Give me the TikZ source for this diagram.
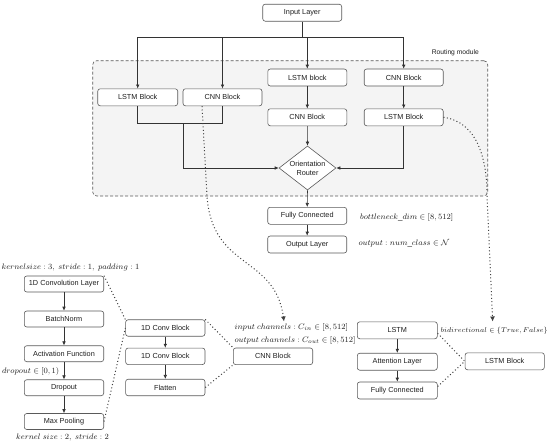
\documentclass[tikz,border=0pt]{standalone}
\usepackage[no-math]{fontspec}
\setmainfont{Liberation Sans}
\usetikzlibrary{arrows.meta,shapes.geometric,calc}
\definecolor{boxline}{HTML}{5A5A5A}
\definecolor{linec}{HTML}{333333}
\definecolor{modfill}{HTML}{F4F4F4}
\definecolor{txt}{HTML}{1E1E1E}
\begin{document}
\begin{tikzpicture}[x=1pt,y=-1pt,
  blk/.style={draw=boxline, fill=white, rounded corners=2.5pt, minimum width=79pt, minimum height=17pt, inner sep=0pt, font=\fontsize{7.3}{8}\selectfont, text=txt, line width=0.6pt},
  conn/.style={draw=linec, line width=0.6pt},
  arr/.style={conn, -{Latex[length=4pt,width=3.6pt]}},
  dotc/.style={draw=black!75, line width=1pt, dash pattern=on 1pt off 2.4pt},
  darr/.style={dotc, -{Latex[length=5pt,width=5pt]}},
  ann/.style={font=\fontsize{8}{9.6}\selectfont, inner sep=0pt, text=txt},
]
\useasboundingbox[fill=white] (0,0) rectangle (550,447);

% routing module
\node[draw=black!65, dash pattern=on 3pt off 2pt, fill=modfill, rounded corners=4pt, line width=0.6pt, minimum width=395pt, minimum height=135.3pt, inner sep=0pt] (mod) at (290.2,128.35) {};
\node[font=\fontsize{6.7}{8}\selectfont, text=txt, anchor=east, inner sep=0pt] (modlbl) at (479,52.7) {Routing module};

% top nodes
\node[blk] (in) at (302.2,12.7) {Input Layer};
\node[blk, minimum width=80pt] (lA) at (137.7,97.3) {LSTM Block};
\node[blk] (cA) at (222.5,97.3) {CNN Block};
\node[blk] (lB) at (307.3,77.5) {LSTM block};
\node[blk] (cC) at (403.7,77.5) {CNN Block};
\node[blk] (cB) at (307.3,117.3) {CNN Block};
\node[blk] (lC) at (403.7,117.3) {LSTM Block};
\node[diamond, draw=boxline, fill=white, line width=0.6pt, minimum width=57pt, minimum height=44pt, inner sep=0pt, aspect=1.3, align=center, font=\fontsize{7.3}{9}\selectfont, text=txt] (rt) at (307.5,168) {Orientation\\Router};
\node[blk] (fc) at (307.2,215.8) {Fully Connected};
\node[blk] (out) at (307.2,244.5) {Output Layer};

% top connectors
\coordinate (jT) at (302.2,37.7);
\draw[conn] (in.south) -- (jT);
\draw[arr] (jT) -| (lA.north);
\draw[arr] (jT) -| (cA.north);
\draw[arr] (jT) -| (lB.north);
\draw[arr] (jT) -| (cC.north);
\draw[arr] (lB) -- (cB);
\draw[arr] (cC) -- (lC);
\coordinate (jL) at (183,123);
\draw[conn] (lA.south) |- (cA.south |- jL) -- (cA.south);
\draw[arr] (jL) |- (rt.west);
\draw[arr] (lC.south) |- (rt.east);
\draw[arr] (cB.south) -- (rt.north);
\draw[arr] (rt.south) -- (fc.north);
\draw[arr] (fc) -- (out);

\node[ann, anchor=west] (bnk) at (360,217.3) {$bottleneck\_dim \in [8,512]$};
\node[ann, anchor=west] (ocl) at (358.3,243.3) {$output : num\_class \in \mathcal{N}$};

% left column
\node[blk, minimum width=79.4pt, minimum height=16pt] (conv) at (64,284) {1D Convolution Layer};
\node[blk, minimum width=79.4pt, minimum height=16pt] (bnorm) at (64,319) {BatchNorm};
\node[blk, minimum width=79.4pt, minimum height=16pt] (act) at (64,353.7) {Activation Function};
\node[blk, minimum width=79.4pt, minimum height=16pt] (drop) at (64,387.7) {Dropout};
\node[blk, minimum width=79.4pt, minimum height=16pt] (mp) at (64,421.5) {Max Pooling};
\draw[arr] (conv) -- (bnorm);
\draw[arr] (bnorm) -- (act);
\draw[arr] (act) -- (drop);
\draw[arr] (drop) -- (mp);
\node[ann] (t1) at (70.5,267.7) {$kernelsize : 3,\ stride : 1,\ padding : 1$};
\node[ann, anchor=east] (t2) at (59.5,371.7) {$dropout \in [0,1)$};
\node[ann] (t3) at (62.5,437) {$kernel\ size : 2,\ stride : 2$};

% middle column
\node[blk, minimum width=79.3pt, minimum height=16.5pt] (cb1) at (165.3,328) {1D Conv Block};
\node[blk, minimum width=79.3pt, minimum height=16.5pt] (cb2) at (165.3,356.3) {1D Conv Block};
\node[blk, minimum width=79.3pt, minimum height=16.5pt] (flat) at (165.3,387.5) {Flatten};
\draw[arr] (cb1) -- (cb2);
\draw[arr] (cb2) -- (flat);
\node[blk, minimum width=79.4pt, minimum height=16.7pt] (cnnB) at (273,356.3) {CNN Block};
\node[ann, anchor=west] (t4) at (234.5,327.7) {$input\ channels : C_{in} \in [8,512]$};
\node[ann, anchor=west] (t5) at (234.3,340) {$output\ channels : C_{out} \in [8,512]$};

% right group
\node[blk, minimum width=80pt] (lstm) at (397.3,330.3) {LSTM};
\node[blk, minimum width=80pt] (att) at (397.3,361.7) {Attention Layer};
\node[blk, minimum width=80pt] (fcb) at (397.3,390.5) {Fully Connected};
\draw[arr] (lstm) -- (att);
\draw[arr] (att) -- (fcb);
\node[blk, minimum width=79.3pt] (lblk) at (504.7,361.3) {LSTM Block};
\node[ann, font=\fontsize{7.5}{9}\selectfont, anchor=west] (t6) at (440.5,330.7) {$bidirectional\in\{True,False\}$};

% dotted links
\coordinate (d1s) at ($(cA.south west)+(19.3,0)$);
\coordinate (d1m) at (207,196);
\coordinate (d1e) at (284,321.5);
\draw[darr] (d1s) -- (d1m) .. controls (212,270) and (275,255) .. (d1e);
\coordinate (d2m) at (487,196);
\coordinate (d2e) at (492.7,321.5);
\draw[darr] (lC.east) .. controls (478,122) and (487,160) .. (d2m) -- (d2e);

\draw[dotc] (conv.north east) -- (cb1.north west);
\draw[dotc] (mp.east) -- (cb1.west);
\draw[dotc] (cb1.north east) -- (cnnB.north west);
\draw[dotc] (flat.east) -- (cnnB.south west);
\draw[dotc] ($(lstm.east)+(0,3)$) -- (lblk.west);
\draw[dotc] ($(fcb.east)+(0,-4)$) -- (lblk.west);
\end{tikzpicture}
\end{document}
